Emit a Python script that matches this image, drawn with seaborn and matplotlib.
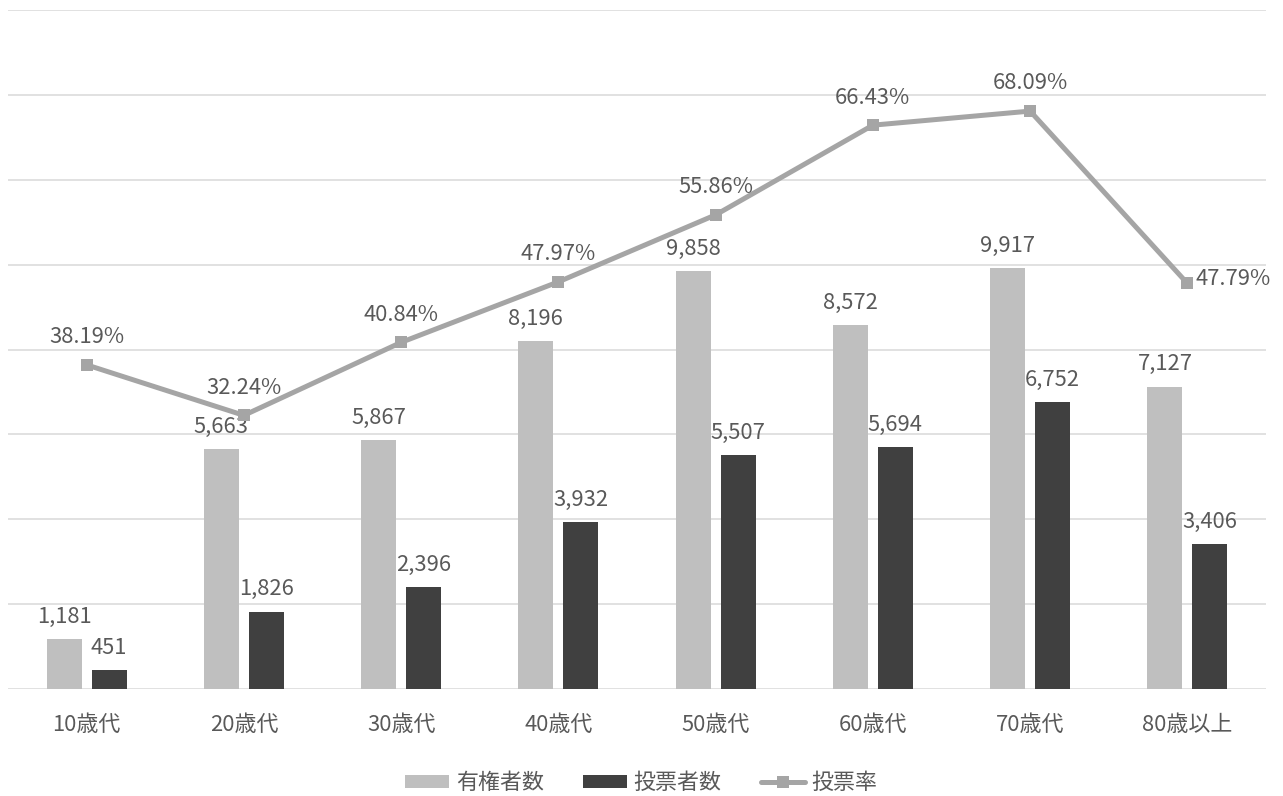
import numpy as np
import pandas as pd
import matplotlib
matplotlib.use("Agg")
import matplotlib.pyplot as plt
import seaborn as sns
from matplotlib.patches import Patch
from matplotlib.lines import Line2D

# ── データ ──────────────────────────────────────────────────────────────
年代 = ['10歳代', '20歳代', '30歳代', '40歳代', '50歳代', '60歳代', '70歳代', '80歳以上']
有権者数 = [1181, 5663, 5867, 8196, 9858, 8572, 9917, 7127]
投票者数 = [451, 1826, 2396, 3932, 5507, 5694, 6752, 3406]
投票率 = [38.19, 32.24, 40.84, 47.97, 55.86, 66.43, 68.09, 47.79]

系列 = ['有権者数', '投票者数']
色 = {'有権者数': '#bfbfbf', '投票者数': '#404040'}
線色 = '#a5a5a5'
文字色 = '#595959'
FS = 15.8

sns.set_theme(style='white')
plt.rcParams['font.family'] = ['Noto Sans CJK JP', 'DejaVu Sans']

df = pd.DataFrame({
    '年代': 年代 * 2,
    '人数': 有権者数 + 投票者数,
    '系列': ['有権者数'] * len(年代) + ['投票者数'] * len(年代),
})

fig = plt.figure(figsize=(12.83, 7.96), dpi=100)
ax = fig.add_axes([8 / 1283, 107 / 796, 1258 / 1283, 679 / 796])

sns.barplot(data=df, x='年代', y='人数', hue='系列', order=年代, hue_order=系列,
            palette=色, width=0.572, gap=0.22, ax=ax, legend=False,
            saturation=1, edgecolor='none', linewidth=0)

for cont in ax.containers:
    ax.bar_label(cont, labels=[f'{v:,.0f}' for v in cont.datavalues],
                 padding=8, fontsize=FS, color=文字色)

ax.set_ylim(0, 16000)
ax.set_yticks(np.arange(0, 16001, 2000))
ax.yaxis.grid(True, color='#dcdcdc', linewidth=1.2)
ax.set_axisbelow(True)
ax.set_yticklabels([])
ax.tick_params(axis='y', length=0)
ax.tick_params(axis='x', length=0, pad=18, labelsize=FS, labelcolor=文字色)
ax.set_xlabel('')
ax.set_ylabel('')
for s in ax.spines.values():
    s.set_visible(False)

# ── 投票率（第2軸） ─────────────────────────────────────────────────────
ax2 = ax.twinx()
x = np.arange(len(年代))
sns.lineplot(x=x, y=投票率, ax=ax2, color=線色, linewidth=3.6,
             marker='s', markersize=8.5, markeredgewidth=0)
ax2.set_ylim(0, 80)
ax2.set_yticks([])
for s in ax2.spines.values():
    s.set_visible(False)

for i, v in enumerate(投票率):
    if i == len(投票率) - 1:
        ax2.annotate(f'{v:.2f}%', (x[i], v), xytext=(6, 3), textcoords='offset points',
                     ha='left', va='center', fontsize=FS, color=文字色)
    else:
        ax2.annotate(f'{v:.2f}%', (x[i], v), xytext=(0, 12), textcoords='offset points',
                     ha='center', va='bottom', fontsize=FS, color=文字色)

ax.set_xlim(-0.5, len(年代) - 0.5)

handles = [Patch(facecolor=色['有権者数'], edgecolor='none'),
           Patch(facecolor=色['投票者数'], edgecolor='none'),
           Line2D([], [], color=線色, linewidth=3.6, marker='s', markersize=8.5,
                  markeredgewidth=0)]
fig.legend(handles, ['有権者数', '投票者数', '投票率'], loc='center',
           bbox_to_anchor=(0.5, 13 / 796), ncol=3, frameon=False, fontsize=FS,
           labelcolor=文字色, handlelength=2.0, handleheight=0.55,
           handletextpad=0.3, columnspacing=1.8)

fig.savefig('out.png', dpi=100)
